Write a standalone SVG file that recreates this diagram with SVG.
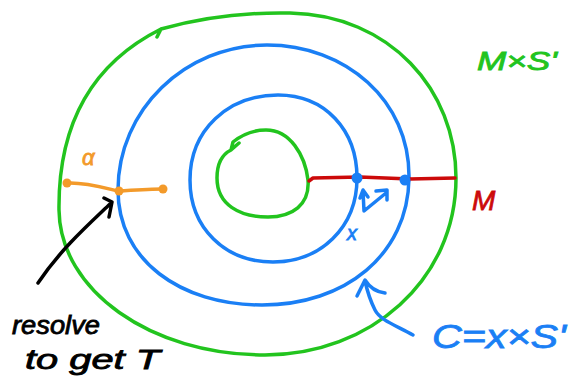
<svg xmlns="http://www.w3.org/2000/svg" width="569" height="387" viewBox="0 0 569 387">
<style>
.s{fill:none;stroke-width:3.5;stroke-linecap:round;stroke-linejoin:round}
.g{stroke:#22c41e}.b{stroke:#1a7ff5}.r{stroke:#cc0a0a}.o{stroke:#f39a2a}.k{stroke:#000}
text{font-family:"Liberation Sans","DejaVu Sans",sans-serif;font-style:italic;stroke-width:0.8}
</style>
<rect width="569" height="387" fill="#fff"/>
<g id="outer-green">
<path class="s g" d="M157 37 L161 29 C200 18,240 12,290 13 C390 15,456 90,456 178 C456 280,370 355,265 355 C150 355,60 290,59 210 C58 120,95 62,161 29"/>
</g>
<g id="middle-blue">
<path class="s b" d="M267 45 C345 45,410 100,409 178 C408 255,345 305,262 305 C180 305,118 260,118 190 C118 110,185 45,267 45 Z"/>
</g>
<g id="inner-blue">
<path class="s b" d="M278 95 C325 95,357 130,357 178 C357 228,320 262,273 262 C225 262,190 228,190 180 C190 130,228 95,278 95 Z"/>
</g>
<g id="inner-green">
<path class="s g" d="M239 143 L231 150 L233 142 C243 134,255 130,266 130 C290 130,305 155,308 180 C310 205,292 217,268 217 C240 217,217 205,217 178 C217 163,223 154,231 150"/>
</g>
<g id="connectors">
<path class="s r" d="M309 181 L313 178 L360 177 L410 179 L455 178"/>
<path class="s o" d="M67 183 C85 182,105 188,118 191 C135 190,150 189,163 189"/>
<circle cx="67" cy="183" r="4.5" fill="#f39a2a"/>
<circle cx="119" cy="191" r="4.5" fill="#f39a2a"/>
<circle cx="163" cy="189" r="4.5" fill="#f39a2a"/>
<circle cx="357" cy="178" r="5.5" fill="#1a7ff5"/>
<circle cx="405" cy="180" r="5.5" fill="#1a7ff5"/>
<path class="s b" d="M360 198 L363 190 L368 197 M363 191 L364 211 L386 193 M376 191 L387 190 L387 200"/>
<path class="s k" stroke-width="4" d="M38 283 C60 250,88 225,110 204 M104 198 L112 202 L109 217"/>
<path class="s b" d="M413 335 C395 325,380 320,375 310 C370 300,367 290,365 281 M357 296 L365 280 C370 288,376 292,385 293"/>
</g>
<g id="labels">
<text x="82" y="165" font-size="22" fill="#f39a2a" stroke="#f39a2a">α</text>
<text x="347" y="240" font-size="20" fill="#1a7ff5" stroke="#1a7ff5">x</text>
<text x="472" y="210" font-size="28" fill="#cc0a0a" stroke="#cc0a0a">M</text>
<text x="477" y="70" font-size="25" fill="#22c41e" stroke="#22c41e" textLength="80" lengthAdjust="spacingAndGlyphs">M×S'</text>
<text x="432" y="348" font-size="34" fill="#1a7ff5" stroke="#1a7ff5" textLength="134" lengthAdjust="spacingAndGlyphs">C=x×S'</text>
<text x="12" y="334" font-size="25" fill="#000" stroke="#000" textLength="88" lengthAdjust="spacingAndGlyphs">resolve</text>
<text x="25" y="369" font-size="27" fill="#000" stroke="#000" textLength="135" lengthAdjust="spacingAndGlyphs">to get T</text>
</g>
</svg>
